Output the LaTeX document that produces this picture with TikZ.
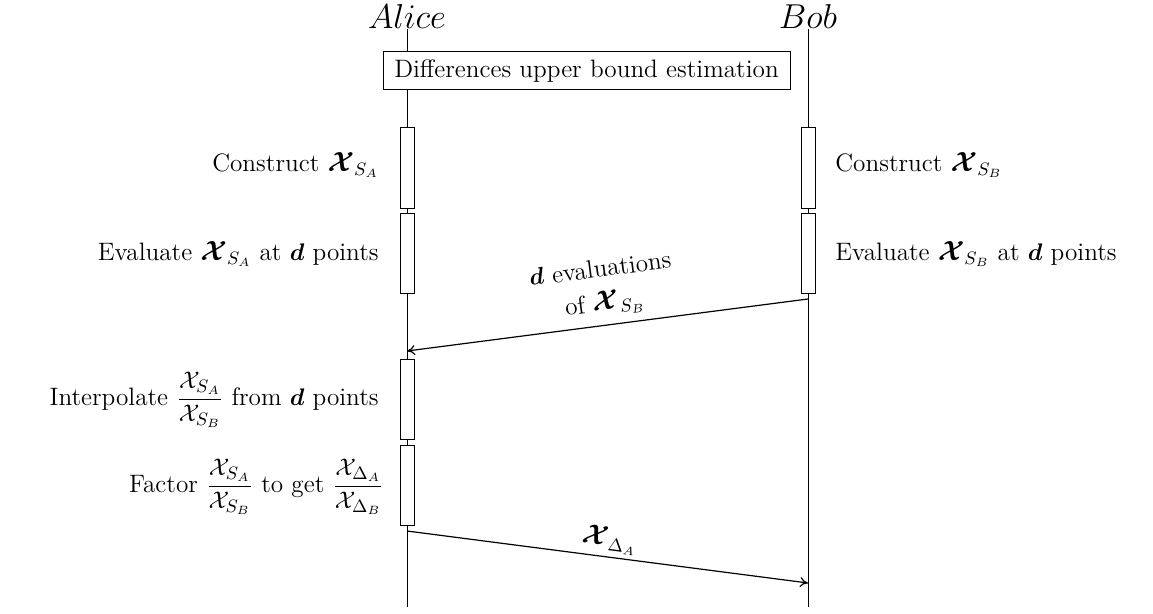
\documentclass[tikz,border=0pt]{standalone}
\usepackage{amsmath,bm,graphicx}
\usepackage{fontspec}
\usetikzlibrary{arrows.meta}
\newcommand{\bigX}{\mbox{\scalebox{1.15}{$\bm{\mathcal{X}}$}}}
\begin{document}
\begin{tikzpicture}[x=0.5pt,y=-0.5pt,
  font=\fontsize{12.6}{15}\selectfont,
  lifeline/.style={line width=0.45pt},
  actor/.style={font=\fontsize{16}{18}\selectfont, inner sep=0},
  act/.style={draw, fill=white, line width=0.5pt, minimum width=7pt, inner sep=0, anchor=north},
  msg/.style={line width=0.6pt, -{To[length=4pt,width=5pt]}},
  lbl/.style={inner sep=0}]
\useasboundingbox (0,0) rectangle (1153,614);
% actors
\node[actor] (alice) at (407,17) {$Alice$};
\node[actor] (bob) at (808,17) {$Bob$};
\coordinate (aend) at (407,607);
\coordinate (bend) at (808,607);
\draw[lifeline] (alice.south) -- (aend);
\draw[lifeline] (bob.south) -- (bend);
% header box
\node[draw, fill=white, line width=0.5pt, minimum width=203.5pt, minimum height=19pt, inner sep=0] (hdr) at (586.5,71) {Differences upper bound estimation};
% activation bars
\node[act, minimum height=40.5pt] (a1) at (407,127) {};
\node[act, minimum height=40pt] (a2) at (407,213) {};
\node[act, minimum height=40pt] (a3) at (407,359) {};
\node[act, minimum height=40pt] (a4) at (407,445) {};
\node[act, minimum height=40.5pt] (b1) at (808,127) {};
\node[act, minimum height=40pt] (b2) at (808,213) {};
% texts
\node[lbl, anchor=east] (ta1) at (379,165) {Construct $\bigX_{S_A}$};
\node[lbl, anchor=east] (ta2) at (379,254) {Evaluate $\bigX_{S_A}$ at $\bm{d}$ points};
\node[lbl, anchor=west] (tb1) at (835,165) {Construct $\bigX_{S_B}$};
\node[lbl, anchor=west] (tb2) at (835,254) {Evaluate $\bigX_{S_B}$ at $\bm{d}$ points};
\node[lbl, anchor=east] (ta3) at (379,400) {Interpolate $\dfrac{\mathcal{X}_{S_A}}{\mathcal{X}_{S_B}}$ from $\bm{d}$ points};
\node[lbl, anchor=east] (ta4) at (384,487) {Factor $\dfrac{\mathcal{X}_{S_A}}{\mathcal{X}_{S_B}}$ to get $\dfrac{\mathcal{X}_{\Delta_A}}{\mathcal{X}_{\Delta_B}}$};
% messages
\coordinate (m1s) at (808,299);
\coordinate (m1e) at (407,351);
\coordinate (m2s) at (407,531);
\coordinate (m2e) at (808,583);
\draw[msg] (m1s) -- node[midway, above=4pt, sloped, align=center, inner sep=0] (l1) {$\bm{d}$ evaluations\\[2pt] of $\bigX_{S_B}$} (m1e);
\draw[msg] (m2s) -- node[midway, above=2pt, sloped, inner sep=0] (l2) {$\bigX_{\Delta_A}$} (m2e);
\end{tikzpicture}
\end{document}
